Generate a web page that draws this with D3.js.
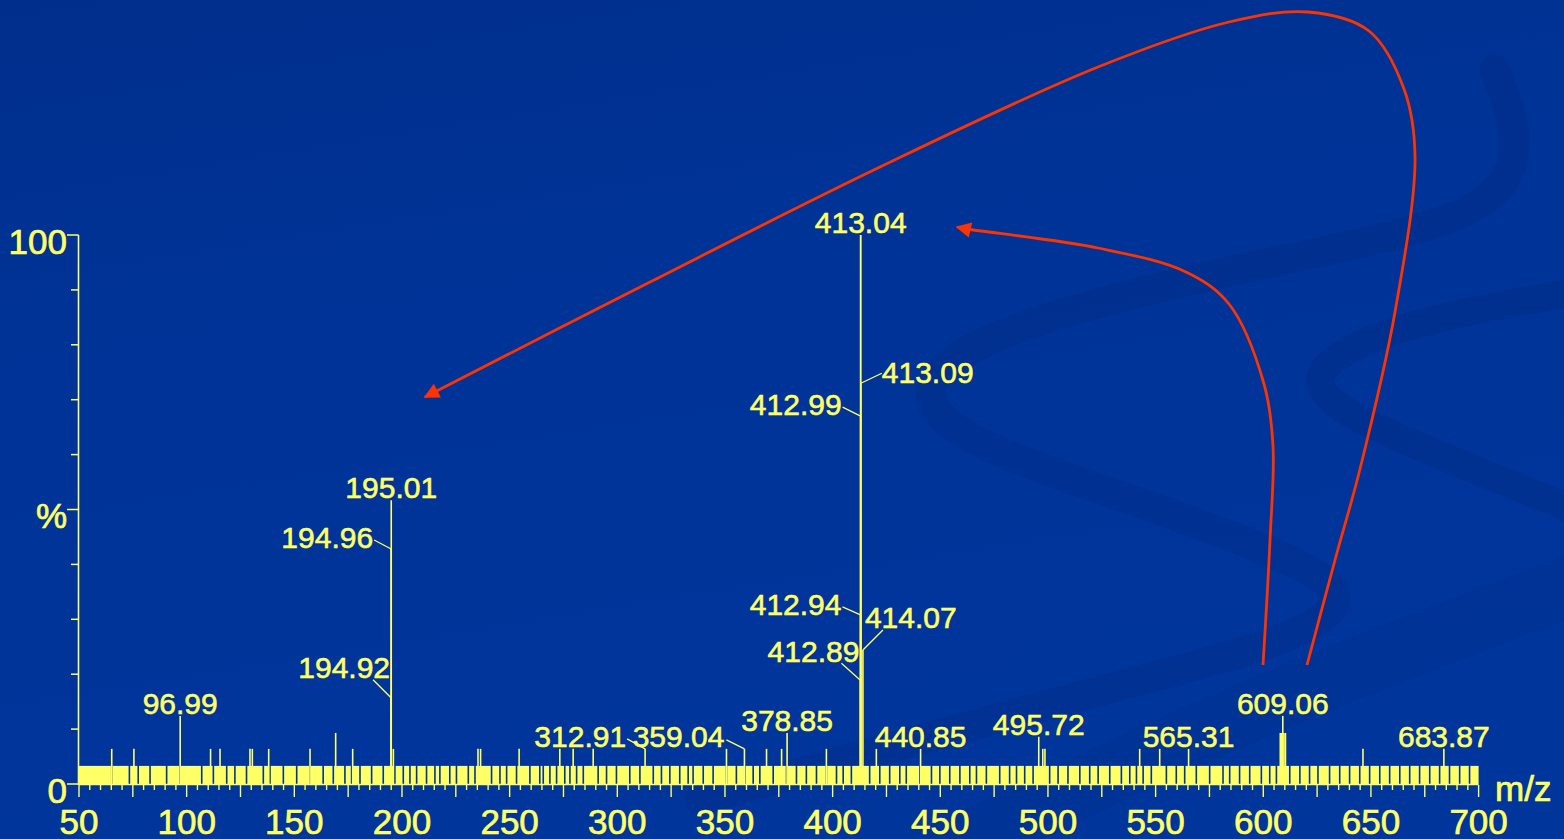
<!DOCTYPE html>
<html><head><meta charset="utf-8">
<script src="https://cdn.jsdelivr.net/npm/d3@7"></script>
<style>html,body{margin:0;padding:0;background:#003399;overflow:hidden}</style>
</head><body><svg id="c" width="1564" height="839"></svg>
<script>
// ---------- data ----------
const labelMz  = [96.99,194.92,194.96,195.01,312.91,359.04,378.85,412.89,412.94,412.99,413.04,413.09,414.07,440.85,495.72,565.31,609.06,683.87];
const labelInt = [12.4, 15.7,  42.8,  51.7,  6.4,   6.4,   9.3,   18.9,  30.8,  67.0,  100,   73.0,  24.4,  6.4,   8.6,   6.4,   12.4,  6.4];
const minorMz  = [65.2,75.5,111.1,115.5,129.4,130.5,138.1,157.3,169.2,177.1,196.0,235.3,236.5,254.4,273.3,279.5,288.8,350.7,369.3,376.3,397.1,420.3,497.6,498.6,542.6,551.9,607.9,608.5,609.6,610.3,646.3];
const minorInt = [6.4, 6.4, 6.4,  6.4,  6.4,  6.4,  6.4,  6.4,  9.3,  6.4,  6.4,  6.4,  6.4,  6.4,  6.4,  6.4,  6.4,  6.4,  6.4,  6.4,  6.4,  6.4,  6.4,  6.4,  6.4,  6.4,  9.3,  9.3,  9.3,  9.3,  6.4];
const noiseLevel = 3.3;
const noiseRange = [50, 700];
const noiseGaps = [65.2,73.4,77.5,83.0,90.7,96.9,107.0,112.4,118.6,122.4,127.8,135.6,138.7,144.9,151.1,157.2,163.4,168.1,173.5,176.6,180.5,185.9,191.3,196.7,200.6,203.7,206.8,211.4,215.3,217.6,222.2,225.3,230.8,233.9,241.6,245.5,248.6,253.2,259.4,264.0,
  265.6,268.7,271.8,275.6,278.0,281.1,284.2,291.1,295.0,299.6,305.8,310.5,316.7,320.5,324.4,329.0,332.9,335.2,339.9,344.5,350.7,355.3,359.2,363.1,366.2,372.4,378.6,383.2,387.8,392.5,397.1,401.8,404.9,408.7,417.2,421.9,426.5,431.2,434.2,440.5,445.9,449.8,454.4,459.1,463.7,466.8,471.4,477.6,482.2,
  485.4,489.2,493.1,500.8,504.7,509.3,514.8,519.4,523.3,528.7,534.1,538.0,541.1,544.2,548.0,555.0,559.6,563.5,568.9,575.1,581.3,584.4,589.0,593.7,599.1,603.0,606.1,612.3,617.0,621.5,625.4,630.8,635.5,640.1,644.8,649.4,654.1,658.7,663.4,668.0,672.6,677.3,681.9,686.5,691.2,695.8];
const xTickLabels = [50,100,150,200,250,300,350,400,450,500,550,600,650,700];
const yTickLabels = [[0,"0"],[50,"%"],[100,"100"]];
const xTitle = "m/z";

// ---------- layout (pixels, not data) ----------
const labelLayout = {
  "194.96": {anchor:"end", dx:-18, dy:-1,  lx:-17, ly:-9},
  "194.92": {anchor:"end", dx:-1,  dy:-20, lx:-18, ly:-18},
  "413.09": {anchor:"start", dx:21, dy:0,  lx:21,  ly:-10},
  "412.99": {anchor:"end", dx:-19, dy:-1,  lx:-18, ly:-9},
  "412.94": {anchor:"end", dx:-19, dy:0,   lx:-18, ly:-8},
  "414.07": {anchor:"start", dx:2, dy:-22, lx:20,  ly:-20},
  "412.89": {anchor:"end", dx:-1,  dy:-18, lx:-19, ly:-17},
  "312.91": {anchor:"end", dx:-19, dy:-2,  lx:-18, ly:-10},
  "359.04": {anchor:"end", dx:-20, dy:-2,  lx:-18, ly:-9}
};
const YEL = "#ffff66", RED = "#ff3300";
const FONT = "'Liberation Sans', Arial, sans-serif";

const svg = d3.select("#c");
const defs = svg.append("defs");
const grad = defs.append("linearGradient").attr("id","bg").attr("x1","0").attr("y1","0").attr("x2","0.3").attr("y2","1");
grad.append("stop").attr("offset","0").attr("stop-color","#002e8c");
grad.append("stop").attr("offset","0.35").attr("stop-color","#003396");
grad.append("stop").attr("offset","1").attr("stop-color","#00359c");
svg.append("rect").attr("width",1564).attr("height",839).attr("fill","url(#bg)");

// decorative swirls
const swirlLine = d3.line().curve(d3.curveBasis);
const swirls = [
  {w:30, o:0.28, pts:[[1495,70],[1525,150],[1490,215],[1320,252],[1140,290],[975,338],[912,390],[960,442],[1140,502],[1320,568],[1350,605],[1280,645],[1100,690],[900,745],[700,800]]},
  {w:28, o:0.3, pts:[[1600,288],[1420,318],[1318,360],[1315,398],[1400,440],[1600,520]]},
  {w:60, o:0.15, pts:[[1600,575],[1400,650],[1200,730],[950,850]]}
];
svg.append("g").selectAll("path").data(swirls).join("path")
  .attr("d", d => swirlLine(d.pts)).attr("fill","none")
  .attr("stroke","#00287c").attr("stroke-opacity", d=>d.o).attr("stroke-width", d=>d.w)
  .attr("stroke-linecap","round");

// ---------- scales ----------
const x = d3.scaleLinear().domain([50,700]).range([79,1478.6]);
const y = d3.scaleLinear().domain([0,100]).range([784,235]);

// noise band: segments between gaps
const gapW = 0.75;
const edges = [noiseRange[0], ...noiseGaps, noiseRange[1]];
const segs = [];
for (let i=0;i<edges.length-1;i++){
  const a = i===0 ? edges[i] : edges[i]+gapW/2;
  const b = i===edges.length-2 ? edges[i+1] : edges[i+1]-gapW/2;
  if (b>a) segs.push([a,b]);
}
svg.append("g").selectAll("rect").data(segs).join("rect")
  .attr("x", d=>x(d[0])).attr("width", d=>x(d[1])-x(d[0]))
  .attr("y", y(noiseLevel)).attr("height", y(0)-y(noiseLevel)).attr("fill", YEL);

// peaks
const peaks = minorMz.map((m,i)=>({mz:m,int:minorInt[i]})).concat(labelMz.map((m,i)=>({mz:m,int:labelInt[i]})));
svg.append("g").selectAll("line").data(peaks).join("line")
  .attr("x1", d=>x(d.mz)).attr("x2", d=>x(d.mz))
  .attr("y1", y(0)).attr("y2", d=>y(d.int))
  .attr("stroke", YEL).attr("stroke-width", d=>d.int>=100?1.9:1.6);

// labels
const labels = labelMz.map((m,i)=>({mz:m,int:labelInt[i],text:m.toFixed(2)}));
const lg = svg.append("g");
labels.forEach(d=>{
  const px = x(d.mz), py = y(d.int);
  const L = labelLayout[d.text] || {anchor:"middle", dx:0, dy:-2};
  if (L.lx !== undefined) {
    lg.append("line").attr("x1", px+L.lx).attr("y1", py+L.ly).attr("x2", px).attr("y2", py)
      .attr("stroke", YEL).attr("stroke-width", 1.3);
  }
  lg.append("text").attr("x", px+L.dx).attr("y", py+L.dy).attr("text-anchor", L.anchor)
    .attr("font-family", FONT).attr("font-size", 30).attr("fill", YEL)
    .attr("stroke", YEL).attr("stroke-width", 0.6).text(d.text);
});

// ---------- axes ----------
const ax = svg.append("g");
ax.append("line").attr("x1", x(50)).attr("x2", x(700)).attr("y1", y(0)+0.5).attr("y2", y(0)+0.5).attr("stroke", YEL).attr("stroke-width",1.5);
ax.append("line").attr("x1", 78.5).attr("x2", 78.5).attr("y1", y(100)).attr("y2", y(0)+1).attr("stroke", YEL).attr("stroke-width",1.6);
const xMinor = d3.range(50, 701, 5);
ax.selectAll("line.xt").data(xMinor).join("line").attr("class","xt")
  .attr("x1", d=>x(d)).attr("x2", d=>x(d)).attr("y1", y(0)+1).attr("y2", d=> d%25===0 ? y(0)+13 : y(0)+6)
  .attr("stroke", YEL).attr("stroke-width",1.4);
ax.selectAll("text.xl").data(xTickLabels).join("text").attr("class","xl")
  .attr("x", d=>x(d)).attr("y", 834).attr("text-anchor","middle")
  .attr("font-family", FONT).attr("font-size", 35).attr("fill", YEL)
  .attr("stroke", YEL).attr("stroke-width", 0.7).text(d=>d);
ax.append("text").attr("x", 1495).attr("y", 801).attr("font-family", FONT).attr("font-size", 35).attr("fill", YEL)
  .attr("stroke", YEL).attr("stroke-width", 0.7).text(xTitle);
const yTicks = d3.range(0, 101, 10);
ax.selectAll("line.yt").data(yTicks).join("line").attr("class","yt")
  .attr("x1", d=> (d%50===0) ? 67 : 71).attr("x2", 78.5).attr("y1", d=>y(d)).attr("y2", d=>y(d))
  .attr("stroke", YEL).attr("stroke-width",1.5);
ax.selectAll("text.yl").data(yTickLabels).join("text").attr("class","yl")
  .attr("x", 67).attr("y", d=>y(d[0])+18.5).attr("text-anchor","end")
  .attr("font-family", FONT).attr("font-size", 35).attr("fill", YEL)
  .attr("stroke", YEL).attr("stroke-width", 0.7).text(d=>d[1]);

// ---------- red arrows ----------
defs.append("marker").attr("id","ah").attr("viewBox","0 0 10 10").attr("refX",9).attr("refY",5)
  .attr("markerWidth",7).attr("markerHeight",5.5).attr("markerUnits","strokeWidth").attr("orient","auto")
  .append("path").attr("d","M0,0 L10,5 L0,10 z").attr("fill", RED);
const arrowLine = d3.line().curve(d3.curveCatmullRom.alpha(0.5));
const arrows = [
  [[1307,665],[1335,560],[1360,469],[1395,312],[1415,156],[1404,89],[1369,31],[1308,12],[1229,22],[1098,67],[880,167],[650,282],[425,397]],
  [[1263,665],[1270,540],[1273,446],[1264,384],[1229,304],[1186,272],[1098,248],[967,229],[957,227]]
];
svg.append("g").selectAll("path").data(arrows).join("path")
  .attr("d", d=>arrowLine(d)).attr("fill","none").attr("stroke", RED).attr("stroke-width",2.8)
  .attr("marker-end","url(#ah)");
</script></body></html>
